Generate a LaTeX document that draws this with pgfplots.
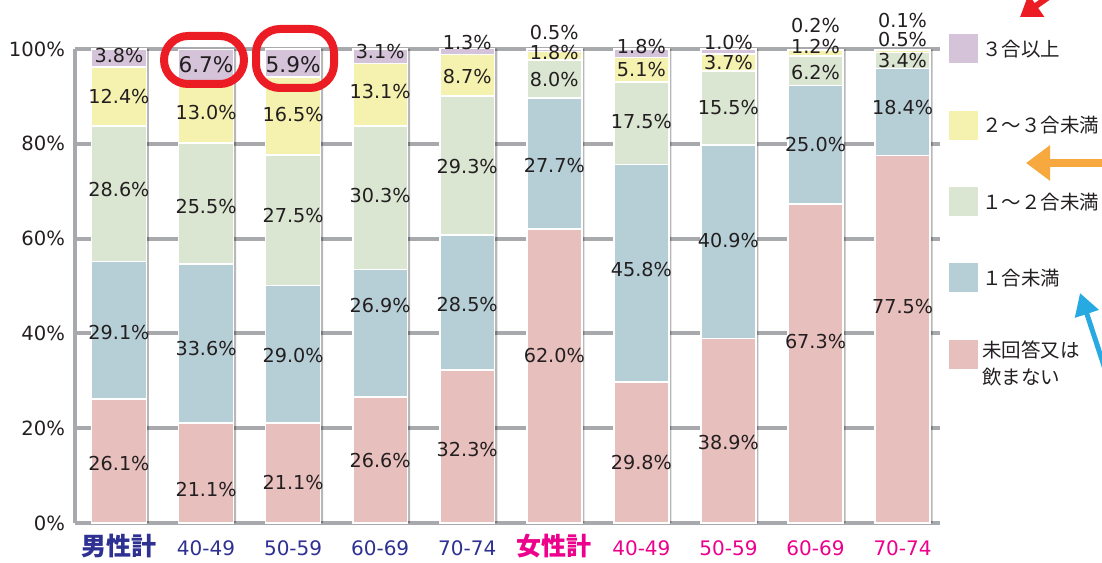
\documentclass[border=0pt]{standalone}
\usepackage{pgfplots}
\pgfplotsset{compat=1.18}
\usepackage{pgfplotstable}
\usepackage{fontspec}
\setmainfont{DejaVu Sans}
\newfontfamily\jp{Noto Sans CJK JP}
\usetikzlibrary{arrows.meta}

\definecolor{cthree}{HTML}{D5C3DA}
\definecolor{ctwo}{HTML}{F5F2B0}
\definecolor{cone}{HTML}{DAE6D2}
\definecolor{clt}{HTML}{B6CFD7}
\definecolor{cnone}{HTML}{E7BFBD}
\definecolor{gridg}{HTML}{A7A9AC}
\definecolor{male}{HTML}{2E3192}
\definecolor{female}{HTML}{EC008C}
\definecolor{textc}{HTML}{231F20}
\definecolor{ared}{HTML}{EC1C24}
\definecolor{aorange}{HTML}{F7A940}
\definecolor{ablue}{HTML}{27A9E1}

\pgfplotstableread{
x none lt1 one two three tot
0 26.1 29.1 28.6 12.4 3.8 100.0
1 21.1 33.6 25.5 13.0 6.7 99.9
2 21.1 29.0 27.5 16.5 5.9 100.0
3 26.6 26.9 30.3 13.1 3.1 100.0
4 32.3 28.5 29.3 8.7 1.3 100.1
5 62.0 27.7 8.0 1.8 0.5 100.0
6 29.8 45.8 17.5 5.1 1.8 100.0
7 38.9 40.9 15.5 3.7 1.0 100.0
8 67.3 25.0 6.2 1.2 0.2 99.9
9 77.5 18.4 3.4 0.5 0.1 99.9
}\bardata

\pgfplotstableread{
x y lab
0 12.6 26.1
0 40.1 29.1
0 70.3 28.6
0 90.0 12.4
0 98.7 3.8
1 7.0 21.1
1 36.9 33.6
1 66.7 25.5
1 86.7 13.0
2 8.5 21.1
2 35.4 29.0
2 64.8 27.5
2 86.1 16.5
3 13.2 26.6
3 45.8 26.9
3 69.0 30.3
3 91.0 13.1
3 99.4 3.1
4 15.4 32.3
4 46.0 28.5
4 75.3 29.3
4 94.3 8.7
4 101.4 1.3
5 35.4 62.0
5 75.5 27.7
5 93.6 8.0
5 99.3 1.8
5 103.5 0.5
6 12.8 29.8
6 53.4 45.8
6 84.8 17.5
6 95.7 5.1
6 100.6 1.8
7 17.0 38.9
7 59.7 40.9
7 87.7 15.5
7 97.2 3.7
7 101.4 1.0
8 38.2 67.3
8 79.9 25.0
8 95.0 6.2
8 100.6 1.2
8 104.9 0.2
9 45.6 77.5
9 87.7 18.4
9 97.5 3.4
9 101.9 0.5
9 106.1 0.1
}\labdata

\pgfplotstableread{
x y lab
1 96.7 6.7
2 96.7 5.9
}\biglab

\pgfplotsset{base/.style={at={(37.5pt,19.5pt)}, anchor=south west, scale only axis,
  width=432.5pt, height=237pt, xmin=-0.505, xmax=9.43, ymin=0, ymax=100, clip=false}}

\begin{document}
\begin{tikzpicture}
\useasboundingbox (0pt,0pt) rectangle (551pt,281pt);
% background: grid, axis lines, tick labels, shadows
\begin{axis}[base,
  axis x line*=bottom, axis y line*=left,
  axis line style={gridg, line width=2pt, -},
  ytick={0,20,...,100},
  yticklabels={0\%,20\%,40\%,60\%,80\%,100\%},
  ymajorgrids, grid style={gridg, line width=2pt},
  major tick length=0pt,
  xtick={0,...,9},
  xticklabels={
    {\textcolor{male}{\jp\fontsize{12.5}{14}\selectfont\bfseries 男性計}},
    {\textcolor{male}{40-49}},
    {\textcolor{male}{50-59}},
    {\textcolor{male}{60-69}},
    {\textcolor{male}{70-74}},
    {\textcolor{female}{\jp\fontsize{12.5}{14}\selectfont\bfseries 女性計}},
    {\textcolor{female}{40-49}},
    {\textcolor{female}{50-59}},
    {\textcolor{female}{60-69}},
    {\textcolor{female}{70-74}}},
  xticklabel style={anchor=base, yshift=-16pt, font=\fontsize{10}{12}\selectfont},
  yticklabel style={font=\fontsize{9.8}{12}\selectfont, text=textc, xshift=-1.5pt},
  ybar, bar width=0.63]
\addplot[fill=black, fill opacity=0.28, draw=none, bar shift=1.3pt] table[x=x, y=tot]{\bardata};
\end{axis}
% stacked bars
\begin{axis}[base, hide axis, ybar stacked, bar width=0.63]
\addplot[fill=cnone, draw=white, line width=0.8pt] table[x=x, y=none]{\bardata};
\addplot[fill=clt, draw=white, line width=0.8pt] table[x=x, y=lt1]{\bardata};
\addplot[fill=cone, draw=white, line width=0.8pt] table[x=x, y=one]{\bardata};
\addplot[fill=ctwo, draw=white, line width=0.8pt] table[x=x, y=two]{\bardata};
\addplot[fill=cthree, draw=white, line width=0.8pt] table[x=x, y=three]{\bardata};
\end{axis}
% value labels
\begin{axis}[base, hide axis]
\addplot[draw=none, mark=none, nodes near coords={\pgfplotspointmeta\%},
  point meta=explicit symbolic,
  every node near coord/.style={anchor=center, inner sep=0pt, text=textc, font=\fontsize{9.6}{11}\selectfont}]
  table[x=x, y=y, meta=lab]{\labdata};
\addplot[draw=none, mark=none, nodes near coords={\pgfplotspointmeta\%},
  point meta=explicit symbolic,
  every node near coord/.style={anchor=center, inner sep=0pt, text=textc, font=\fontsize{10.8}{12}\selectfont}]
  table[x=x, y=y, meta=lab]{\biglab};
\end{axis}
% legend
\fill[cthree] (474.5pt,249.25pt) rectangle ++(14.5pt,14.5pt);
\fill[ctwo] (474.5pt,211pt) rectangle ++(14.5pt,14.5pt);
\fill[cone] (474.5pt,172.75pt) rectangle ++(14.5pt,14.5pt);
\fill[clt] (474.5pt,134.75pt) rectangle ++(14.5pt,14.5pt);
\fill[cnone] (474.5pt,96.25pt) rectangle ++(14.5pt,14.5pt);
\begin{scope}[every node/.style={anchor=west, inner sep=0pt, text=textc, font=\jp\fontsize{9.75}{12}\selectfont}]
\node at (491pt,256.5pt) {３合以上};
\node at (491pt,218.25pt) {２～３合未満};
\node at (491pt,180pt) {１～２合未満};
\node at (491pt,142pt) {１合未満};
\node at (491pt,106pt) {未回答又は};
\node at (491pt,92.5pt) {飲まない};
\end{scope}
% annotations
\draw[ared, line width=4pt, rounded corners=12pt] (82pt,239pt) rectangle (122pt,263pt);
\draw[ared, line width=4pt, rounded corners=12pt] (128pt,237pt) rectangle (167pt,266.5pt);
\draw[ared, line width=3pt, -{Triangle[length=10pt,width=13pt]}] (535pt,290pt) -- (510pt,272.5pt);
\draw[aorange, line width=4pt, -{Triangle[length=12pt,width=17pt]}] (560pt,199.5pt) -- (513pt,199.5pt);
\draw[ablue, line width=2.5pt, -{Triangle[length=11pt,width=12pt]}] (553pt,95pt) -- (540pt,134.5pt);
\end{tikzpicture}
\end{document}
